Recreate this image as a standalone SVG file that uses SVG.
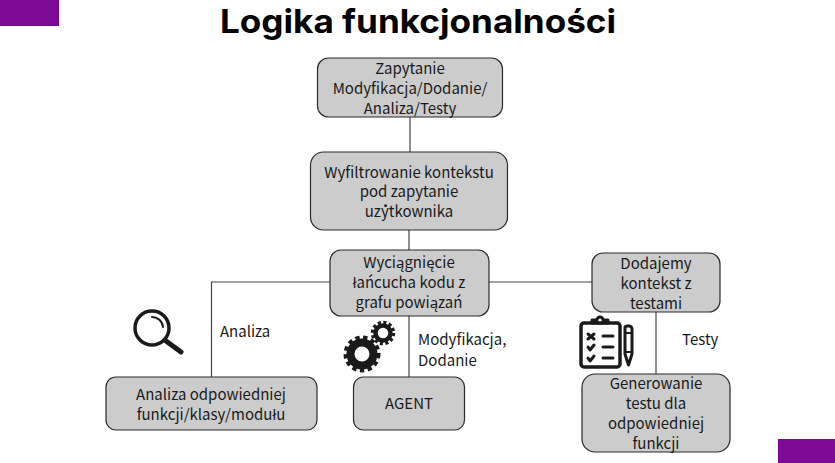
<svg xmlns="http://www.w3.org/2000/svg" width="835" height="463" viewBox="0 0 835 463">
<style>
.n{fill:#cccccc;stroke:#2b2b2b;stroke-width:1.2}
.t{font-family:"Noto Sans CJK SC","Noto Sans",sans-serif;font-size:15px;fill:#1a1a1a;text-anchor:middle}
.l{font-family:"Noto Sans CJK SC","Noto Sans",sans-serif;font-size:15px;fill:#1a1a1a}
.c{fill:none;stroke:#444;stroke-width:1.2}
.i{fill:none;stroke:#1a1a1a;stroke-linecap:round;stroke-linejoin:round}
</style>
<rect width="835" height="463" fill="#fff"/>
<rect x="0" y="0" width="59" height="26" fill="#7b0a96"/>
<rect x="778" y="439" width="57" height="24" fill="#7b0a96"/>
<text x="220" y="33" font-family="Inter,'Noto Sans',sans-serif" font-weight="700" font-size="33px" textLength="396" lengthAdjust="spacingAndGlyphs" fill="#000">Logika funkcjonalności</text>
<g id="connectors">
<path class="c" d="M410 117V152M409 230V250M330 282H211.500V377M489 282H592M409 316V377M656 312V374"/>
</g>
<g id="n1"><rect class="n" x="317.500" y="58" width="185" height="59" rx="11"/><text class="t" x="410" y="74">Zapytanie</text><text class="t" x="410" y="94">Modyfikacja/Dodanie/</text><text class="t" x="410" y="114">Analiza/Testy</text></g>
<g id="n2"><rect class="n" x="310.500" y="152" width="197" height="78" rx="13"/><text class="t" x="409" y="178">Wyfiltrowanie kontekstu</text><text class="t" x="409" y="197">pod zapytanie</text><text class="t" x="409" y="217">użytkownika</text></g>
<g id="n3"><rect class="n" x="330" y="250" width="159" height="66" rx="11"/><text class="t" x="409" y="268">Wyciągnięcie</text><text class="t" x="409" y="288">łańcucha kodu z</text><text class="t" x="409" y="308">grafu powiązań</text></g>
<g id="n4"><rect class="n" x="592" y="253" width="128" height="59" rx="11"/><text class="t" x="656" y="269">Dodajemy</text><text class="t" x="656" y="289">kontekst z</text><text class="t" x="656" y="309">testami</text></g>
<g id="n5"><rect class="n" x="106" y="377" width="211" height="53" rx="10"/><text class="t" x="211" y="400">Analiza odpowiedniej</text><text class="t" x="211" y="420">funkcji/klasy/modułu</text></g>
<g id="n6"><rect class="n" x="353.500" y="377" width="111" height="53" rx="10"/><text class="t" x="409" y="409">AGENT</text></g>
<g id="n7"><rect class="n" x="582" y="374" width="148" height="78" rx="13"/><text class="t" x="656" y="389">Generowanie</text><text class="t" x="656" y="409">testu dla</text><text class="t" x="656" y="429">odpowiedniej</text><text class="t" x="656" y="449">funkcji</text></g>
<text class="l" x="220" y="337">Analiza</text>
<text class="l" x="418" y="345">Modyfikacja,</text>
<text class="l" x="418" y="366">Dodanie</text>
<text class="l" x="682" y="345">Testy</text>
<g id="icon-search">
<circle class="i" cx="152" cy="328" r="17" stroke-width="3.500"/>
<path class="i" d="M152 317a11 11 0 0 1 11 10" stroke-width="2"/>
<path class="i" d="M166 341L181 352" stroke-width="5"/>
</g>
<g id="icon-gears">
<circle class="i" cx="362" cy="354" r="11.500" stroke-width="8"/>
<circle class="i" cx="362" cy="354" r="16" stroke-width="5" stroke-dasharray="4.200 3.400" style="stroke-linecap:butt"/>
<circle class="i" cx="383" cy="333" r="7.500" stroke-width="4.500"/>
<circle class="i" cx="383" cy="333" r="10.500" stroke-width="3.500" stroke-dasharray="3 2.500" style="stroke-linecap:butt"/>
</g>
<g id="icon-tests">
<rect class="i" x="581" y="323" width="39" height="44" rx="3" stroke-width="3.500"/>
<path class="i" d="M592 323v-3h5a3 3 0 0 1 6 0h5v3z" stroke-width="3"/>
<path class="i" d="M588 334l6 5m0-5l-6 5M588 347l2 3 4-5M588 358l2 3 4-5" stroke-width="3"/>
<path class="i" d="M603 336h10M603 347h10M603 358h10" stroke-width="3"/>
<path d="M625 327a3 3 0 0 1 3-1h1a3 3 0 0 1 3 3v25l-3.500 11-3.500-11z" fill="none" stroke="#1a1a1a" stroke-width="3" stroke-linejoin="round"/>
<path d="M625 333h7M625 352h7" stroke="#1a1a1a" stroke-width="2"/>
</g>
</svg>
